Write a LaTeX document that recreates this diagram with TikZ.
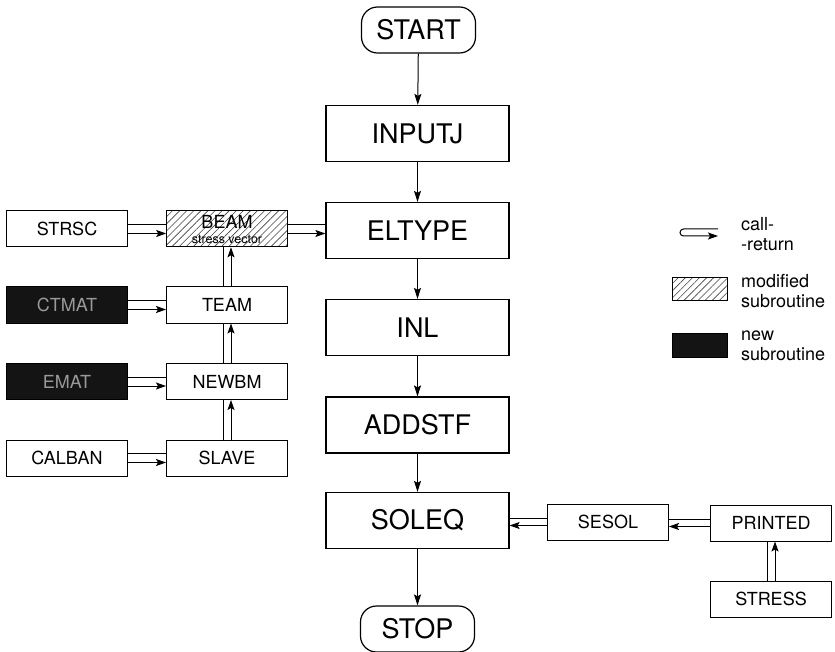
\documentclass[tikz,border=0pt]{standalone}
\usepackage{fontspec}
\setmainfont{TeX Gyre Heros}
\usetikzlibrary{arrows.meta,patterns.meta}
\begin{document}
\begin{tikzpicture}[x=1pt,y=-1pt,
  mainbox/.style={draw, line width=1.2pt, minimum width=183pt, minimum height=56pt, inner sep=0pt, font=\fontsize{27}{30}\selectfont},
  termbox/.style={draw, line width=1.2pt, rounded corners=16pt, minimum width=114pt, minimum height=46pt, inner sep=0pt, font=\fontsize{27}{30}\selectfont},
  subbox/.style={draw, line width=1pt, minimum width=121pt, minimum height=36pt, inner sep=0pt, font=\fontsize{18}{20}\selectfont},
  modbox/.style={subbox, pattern={Lines[angle=45,distance=5pt,line width=0.6pt]}, pattern color=black!75},
  newbox/.style={subbox, fill=black!92, text=black!40},
  flow/.style={-{Stealth[length=11pt,width=7pt,inset=2pt]}, line width=1pt},
  cr/.style={line width=1pt},
  cra/.style={cr, -{Stealth[length=10pt,width=7pt,inset=2pt]}},
  legtext/.style={anchor=west, align=left, inner sep=0pt, font=\fontsize{18}{20}\selectfont}
]
\useasboundingbox (0,0) rectangle (835,652);

% main column
\node[termbox] (start) at (418.5,30) {START};
\node[mainbox] (inputj) at (417.5,133.5) {INPUTJ};
\node[mainbox] (eltype) at (417.5,230.5) {ELTYPE};
\node[mainbox] (inl) at (417.5,327.5) {INL};
\node[mainbox] (addstf) at (417.5,425) {ADDSTF};
\node[mainbox] (soleq) at (417.5,520.5) {SOLEQ};
\node[termbox] (stop) at (417.5,629) {STOP};

\draw[flow] (start) -- (inputj);
\draw[flow] (inputj) -- (eltype);
\draw[flow] (eltype) -- (inl);
\draw[flow] (inl) -- (addstf);
\draw[flow] (addstf) -- (soleq);
\draw[flow] (soleq) -- (stop);

% left side
\node[subbox] (strsc) at (67,229) {STRSC};
\node[modbox] (beam) at (227,229) {};
\node[inner sep=0pt, font=\fontsize{18}{20}\selectfont] (beamt) at (227,222) {BEAM};
\node[inner sep=0pt, font=\fontsize{12.5}{13}\selectfont] (beams) at (227,239.5) {stress vector};
\node[newbox] (ctmat) at (67,305) {CTMAT};
\node[subbox] (team) at (227,305) {TEAM};
\node[newbox] (emat) at (67,381.5) {EMAT};
\node[subbox] (newbm) at (227,381.5) {NEWBM};
\node[subbox] (calban) at (67,458) {CALBAN};
\node[subbox] (slave) at (227,458) {SLAVE};

% right side
\node[subbox] (sesol) at (608,522) {SESOL};
\node[subbox] (printed) at (771,523) {PRINTED};
\node[subbox] (stress) at (771,599) {STRESS};

% horizontal call-return connectors (rightwards)
\foreach \a/\b in {strsc/beam, beam/eltype, ctmat/team, emat/newbm, calban/slave}{
  \draw[cr]  ([yshift=4.5pt]\a.east) -- ([yshift=4.5pt]\a.east -| \b.west);
  \draw[cra] ([yshift=-4.5pt]\a.east) -- ([yshift=-4.5pt]\a.east -| \b.west);
}
% vertical call-return connectors (upwards)
\foreach \a/\b in {team/beam, newbm/team, slave/newbm, stress/printed}{
  \draw[cr]  ([xshift=-4pt]\a.north) -- ([xshift=-4pt]\a.north |- \b.south);
  \draw[cra] ([xshift=4pt]\a.north) -- ([xshift=4pt]\a.north |- \b.south);
}
% horizontal call-return connectors (leftwards)
\foreach \a/\b in {sesol/soleq, printed/sesol}{
  \draw[cr]  ([yshift=3.5pt]\a.west) -- ([yshift=3.5pt]\a.west -| \b.east);
  \draw[cra] ([yshift=-3.5pt]\a.west) -- ([yshift=-3.5pt]\a.west -| \b.east);
}

% legend
\coordinate (lga) at (718,229);
\coordinate (lgb) at (680,229);
\coordinate (lgc) at (680,236);
\coordinate (lgd) at (718,236);
\draw[cra, rounded corners=3.5pt] (lga) -- (lgb) -- (lgc) -- (lgd);
\node[legtext] (lcr) at (741,234) {call-\\-return};
\node[modbox, minimum width=55pt, minimum height=22pt] (lmod) at (699.5,289) {};
\node[legtext] (lmodt) at (741,291) {modified\\subroutine};
\node[newbox, minimum width=55pt, minimum height=24pt] (lnew) at (699.5,345) {};
\node[legtext] (lnewt) at (741,346) {new\\subroutine};
\end{tikzpicture}
\end{document}
